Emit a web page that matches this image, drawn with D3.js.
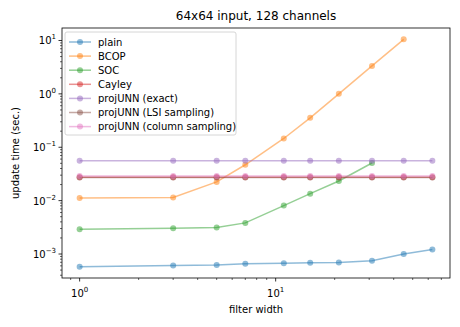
<!DOCTYPE html>
<html>
<head>
<meta charset="utf-8">
<script src="https://cdn.jsdelivr.net/npm/d3@7"></script>
<style>
  body { margin: 0; background: #fff; }
  svg text { font-family: "DejaVu Sans", sans-serif; fill: #000; }
</style>
</head>
<body>
<div id="chart"></div>
<script>
// filter widths (x) and update times (sec.) per method
var widths = [1, 3, 5, 7, 11, 15, 21, 31, 45, 63];
var plain = [5.8e-4, 6.1e-4, 6.2e-4, 6.6e-4, 6.7e-4, 6.85e-4, 6.9e-4, 7.5e-4, 1.0e-3, 1.21e-3];
var bcop = [1.12e-2, 1.15e-2, 2.24e-2, 4.7e-2, 0.146, 0.356, 1.0, 3.34, 10.5];
var soc = [2.91e-3, 3.03e-3, 3.13e-3, 3.83e-3, 8.07e-3, 1.35e-2, 2.33e-2, 5.07e-2];
var cayley = [0.0273, 0.0273, 0.0273, 0.0273, 0.0273, 0.0273, 0.0273, 0.0273, 0.0273, 0.0273];
var exact = [0.056, 0.056, 0.056, 0.056, 0.056, 0.056, 0.056, 0.056, 0.056, 0.056];
var lsi = [0.027, 0.027, 0.027, 0.027, 0.027, 0.027, 0.027, 0.027, 0.027, 0.027];
var column = [0.0288, 0.0288, 0.0288, 0.0288, 0.0288, 0.0288, 0.0288, 0.0288, 0.0288, 0.0288];

var names = ["plain", "BCOP", "SOC", "Cayley", "projUNN (exact)", "projUNN (LSI sampling)", "projUNN (column sampling)"];
var colors = ["#1f77b4", "#ff7f0e", "#2ca02c", "#d62728", "#9467bd", "#8c564b", "#e377c2"];
var seriesVals = [plain, bcop, soc, cayley, exact, lsi, column];

var width = 460, height = 327;
var pLeft = 62, pRight = 450, pTop = 28, pBottom = 278;

var svg = d3.select("#chart").append("svg")
  .attr("width", width)
  .attr("height", height);

// log scales with matplotlib-like 5% margins (in log space)
function padLog(lo, hi) {
  var a = Math.log10(lo), b = Math.log10(hi), m = (b - a) * 0.05;
  return [Math.pow(10, a - m), Math.pow(10, b + m)];
}
var x = d3.scaleLog().domain(padLog(1, 63)).range([pLeft, pRight]);
var y = d3.scaleLog().domain(padLog(5.8e-4, 10.5)).range([pBottom, pTop]);

// lines + markers
seriesVals.forEach(function(vals, i) {
  var pts = vals.map(function(v, j) { return [widths[j], v]; });
  var line = d3.line().x(function(d) { return x(d[0]); }).y(function(d) { return y(d[1]); });
  svg.append("path")
    .attr("d", line(pts))
    .attr("fill", "none")
    .attr("stroke", colors[i])
    .attr("stroke-width", 1.5)
    .attr("opacity", 0.5);
  svg.selectAll(".m" + i).data(pts).enter().append("circle")
    .attr("class", "m" + i)
    .attr("cx", function(d) { return x(d[0]); })
    .attr("cy", function(d) { return y(d[1]); })
    .attr("r", 3)
    .attr("fill", colors[i])
    .attr("opacity", 0.5);
});

// axes frame
svg.append("rect")
  .attr("x", pLeft).attr("y", pTop)
  .attr("width", pRight - pLeft).attr("height", pBottom - pTop)
  .attr("fill", "none").attr("stroke", "#000").attr("stroke-width", 0.8);

function powLabel(sel, exp) {
  sel.append("tspan").text("10");
  sel.append("tspan").attr("dy", -5).attr("font-size", 7).text(exp < 0 ? "\u2212" + (-exp) : exp);
}

// x ticks
var xMajor = [1, 10];
var xMinor = [];
[0.1, 1, 10].forEach(function(dec) {
  for (var k = 2; k <= 9; k++) {
    var v = dec * k;
    if (x(v) <= pRight && x(v) >= pLeft) xMinor.push(v);
  }
});
xMinor.forEach(function(v) {
  svg.append("line").attr("x1", x(v)).attr("x2", x(v)).attr("y1", pBottom).attr("y2", pBottom + 2)
    .attr("stroke", "#000").attr("stroke-width", 0.6);
});
xMajor.forEach(function(v, i) {
  svg.append("line").attr("x1", x(v)).attr("x2", x(v)).attr("y1", pBottom).attr("y2", pBottom + 3.5)
    .attr("stroke", "#000").attr("stroke-width", 0.8);
  var t = svg.append("text").attr("x", x(v)).attr("y", 297).attr("text-anchor", "middle").attr("font-size", 10);
  powLabel(t, i);
});

// y ticks
var yMajorExp = [-3, -2, -1, 0, 1];
yMajorExp.forEach(function(e) {
  var v = Math.pow(10, e);
  svg.append("line").attr("x1", pLeft - 3.5).attr("x2", pLeft).attr("y1", y(v)).attr("y2", y(v))
    .attr("stroke", "#000").attr("stroke-width", 0.8);
  var t = svg.append("text").attr("x", pLeft - 6).attr("y", y(v) + 4).attr("text-anchor", "end").attr("font-size", 10);
  powLabel(t, e);
});
[-4, -3, -2, -1, 0, 1].forEach(function(e) {
  for (var k = 2; k <= 9; k++) {
    var v = k * Math.pow(10, e);
    var py = y(v);
    if (py <= pBottom && py >= pTop) {
      svg.append("line").attr("x1", pLeft - 2).attr("x2", pLeft).attr("y1", py).attr("y2", py)
        .attr("stroke", "#000").attr("stroke-width", 0.6);
    }
  }
});

// labels
svg.append("text").attr("x", (pLeft + pRight) / 2).attr("y", 20).attr("text-anchor", "middle")
  .attr("font-size", 12).text("64x64 input, 128 channels");
svg.append("text").attr("x", (pLeft + pRight) / 2).attr("y", 313).attr("text-anchor", "middle")
  .attr("font-size", 10).text("filter width");
svg.append("text").attr("transform", "translate(19," + ((pTop + pBottom) / 2) + ") rotate(-90)")
  .attr("text-anchor", "middle").attr("font-size", 10).text("update time (sec.)");

// legend
var lg = svg.append("g");
lg.append("rect").attr("x", 65).attr("y", 32).attr("width", 171).attr("height", 103)
  .attr("rx", 2).attr("fill", "#fff").attr("fill-opacity", 0.8)
  .attr("stroke", "#ccc").attr("stroke-width", 0.8);
names.forEach(function(n, i) {
  var ly = 42 + i * 14.1;
  lg.append("line").attr("x1", 69).attr("x2", 91).attr("y1", ly).attr("y2", ly)
    .attr("stroke", colors[i]).attr("stroke-width", 1.5).attr("opacity", 0.5);
  lg.append("circle").attr("cx", 80).attr("cy", ly).attr("r", 3)
    .attr("fill", colors[i]).attr("opacity", 0.5);
  lg.append("text").attr("x", 98).attr("y", ly + 3.5).attr("font-size", 10).text(n);
});
</script>
</body>
</html>
